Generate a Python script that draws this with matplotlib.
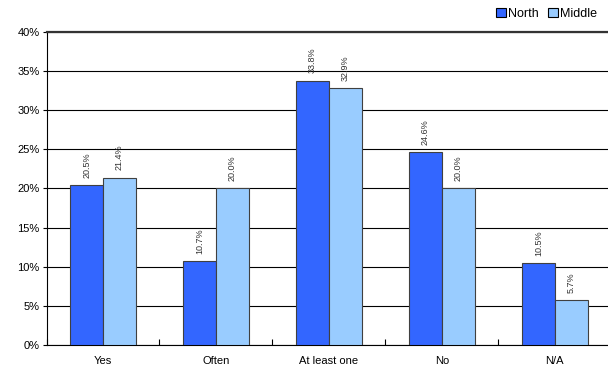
import matplotlib
matplotlib.use("Agg")
import matplotlib.pyplot as plt
import numpy as np
from matplotlib.patches import Patch

plt.rcParams['font.family'] = ['Liberation Sans', 'DejaVu Sans']

categories = ["Yes", "Often", "At least one", "No", "N/A"]
north = [20.5, 10.7, 33.8, 24.6, 10.5]
middle = [21.4, 20.0, 32.9, 20.0, 5.7]
yticks = [0, 5, 10, 15, 20, 25, 30, 35, 40]

c_north = "#3366FF"
c_middle = "#99CCFF"

fig = plt.figure(figsize=(6.08, 3.75), dpi=100)
ax = fig.add_axes([0.0765, 0.08, 0.929, 0.8347])

x = np.arange(len(categories))
w = 0.29
b1 = ax.bar(x - w / 2, north, w, color=c_north, edgecolor="#404040", linewidth=0.8, zorder=3)
b2 = ax.bar(x + w / 2, middle, w, color=c_middle, edgecolor="#404040", linewidth=0.8, zorder=3)

for bars, vals in ((b1, north), (b2, middle)):
    for r, v in zip(bars, vals):
        ax.text(r.get_x() + r.get_width() / 2, v + 0.9, f"{v:.1f}%", rotation=90,
                ha="center", va="bottom", fontsize=6.5, color="#333333")

ax.set_xlim(-0.5, len(categories) - 0.5)
ax.set_ylim(0, 40)
ax.set_yticks(yticks)
ax.set_yticklabels([f"{t}%" for t in yticks], fontsize=8)
ax.set_xticks(np.arange(len(categories) + 1) - 0.5, minor=False)
ax.set_xticklabels([])
ax.set_xticks(x, minor=True)
ax.set_xticklabels(categories, minor=True, fontsize=8)
ax.tick_params(axis="x", which="major", length=4, direction="in", width=0.8)
ax.tick_params(axis="x", which="minor", length=0, pad=8)
ax.tick_params(axis="y", length=3, width=0.8, pad=2)

ax.yaxis.grid(True, color="black", linewidth=0.8, zorder=0)
ax.spines["right"].set_visible(False)
ax.spines["top"].set_linewidth(1.6)
ax.spines["top"].set_color("#333333")
ax.spines["left"].set_linewidth(0.8)
ax.spines["bottom"].set_linewidth(0.8)

handles = [Patch(facecolor=c_north, edgecolor="black", linewidth=0.8, label="North"),
           Patch(facecolor=c_middle, edgecolor="black", linewidth=0.8, label="Middle")]
fig.legend(handles=handles, loc="upper right", bbox_to_anchor=(0.995, 1.0), ncol=2,
           frameon=False, fontsize=9, handlelength=0.8, handleheight=0.8,
           handletextpad=0.2, columnspacing=0.7, borderaxespad=0.2)

fig.savefig("out.png", dpi=100)
